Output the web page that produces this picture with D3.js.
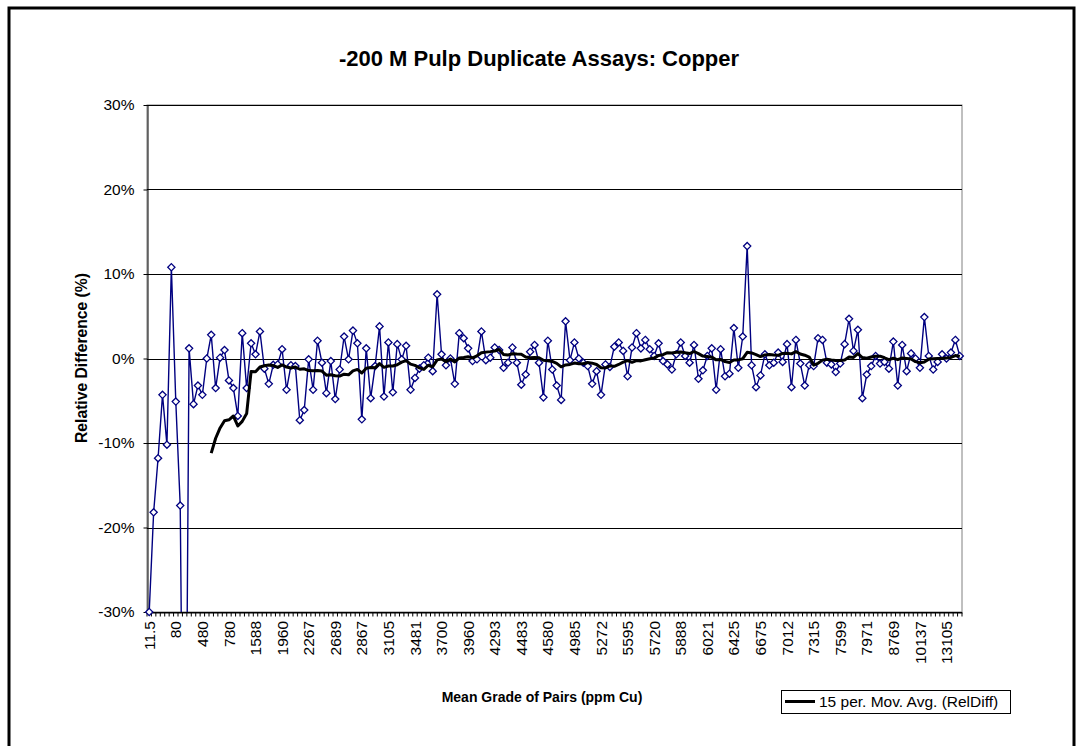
<!DOCTYPE html>
<html>
<head>
<meta charset="utf-8">
<script src="https://cdn.jsdelivr.net/npm/d3@7"></script>
<style>
  body { margin: 0; background: #fff; }
  svg { display: block; font-family: "Liberation Sans", Arial, sans-serif; }
</style>
</head>
<body>
<svg id="chart" width="1083" height="746"></svg>
<script>
// relative difference of duplicate pairs (%), one per pair, sorted by mean grade
const relDiff = [
  -30.0, -18.2, -11.8, -4.3, -10.2, 10.8, -5.1, -17.4, -73.0, 1.2,
  -5.4, -3.2, -4.3, 0.0, 2.8, -3.5, 0.1, 1.0, -2.6, -3.5,
  -6.8, 3.0, -3.5, 1.8, 0.5, 3.2, -1.2, -3.0, -0.75, -0.7,
  1.1, -3.7, -0.8, -0.9, -7.3, -6.1, -0.1, -3.7, 2.1, -0.5,
  -4.1, -0.3, -4.8, -1.3, 2.6, -0.1, 3.3, 1.8, -7.2, 1.2,
  -4.7, -0.9, 3.8, -4.5, 1.9, -4.0, 1.7, -0.1, 1.5, -3.7,
  -2.3, -1.2, -0.8, 0.1, -1.5, 7.6, 0.5, -0.8, 0.0, -3.0,
  3.0, 2.4, 1.2, -0.3, -0.1, 3.2, -0.2, 0.1, 1.3, 1.0,
  -1.1, -0.5, 1.3, -0.5, -3.1, -1.9, 0.8, 1.6, -0.5, -4.6,
  2.1, -1.3, -3.2, -4.9, 4.4, -0.2, 1.9, 0.0, -0.5, -0.9,
  -3.0, -1.5, -4.3, -0.7, -1.0, 1.4, 1.9, 0.9, -2.1, 1.3,
  3.0, 1.2, 2.2, 1.1, 0.3, 1.8, -0.3, -0.7, -1.3, 0.5,
  1.9, 0.3, -0.5, 1.6, -2.4, -1.4, 0.3, 1.2, -3.7, 1.1,
  -2.1, -1.8, 3.6, -1.1, 2.6, 13.3, -0.8, -3.4, -2.0, 0.5,
  -0.8, -0.5, 0.7, -0.4, 1.7, -3.4, 2.2, -0.6, -3.2, -0.8,
  -0.9, 2.4, 2.2, -0.5, -0.7, -1.6, -0.6, 1.7, 4.7, 0.9,
  3.4, -4.7, -1.9, -0.9, 0.3, -0.6, -0.4, -1.2, 2.0, -3.2,
  1.6, -1.5, 0.6, 0.0, -1.1, 4.9, 0.3, -1.3, -0.4, 0.5,
  0.0, 0.7, 2.2, 0.3
];

// mean grade labels shown on the category axis (every 6th pair)
const gradeLabels = [
  '11.5', '80', '480', '780', '1588', '1960', '2267', '2689', '2867', '3105',
  '3481', '3700', '3960', '4293', '4483', '4580', '4985', '5272', '5595', '5720',
  '5888', '6021', '6425', '6675', '7012', '7315', '7599', '7971', '8769', '10137',
  '13105'
];
const labelEvery = 6;

const yTicks = [-30, -20, -10, 0, 10, 20, 30];
const maPeriod = 15;

// 15 period trailing moving average, as the Excel trendline
const movAvg = relDiff.map((v, i) => {
  if (i < maPeriod - 1) return null;
  return d3.mean(relDiff.slice(i - maPeriod + 1, i + 1));
});

const svg = d3.select('#chart');
const plot = { left: 147, top: 105, right: 962, bottom: 612 };

// outer chart border
svg.append('rect')
  .attr('x', 9)
  .attr('y', 8)
  .attr('width', 1065)
  .attr('height', 770)
  .style('fill', '#fff')
  .style('stroke', '#000')
  .style('stroke-width', 3);

const x = d3.scaleBand()
  .domain(d3.range(relDiff.length))
  .range([plot.left, plot.right])
  .padding(0);
const bw = x.bandwidth();
const cx = i => x(i) + bw / 2;

const y = d3.scaleLinear()
  .domain([-30, 30])
  .range([plot.bottom, plot.top]);

svg.append('defs').append('clipPath')
  .attr('id', 'plot-clip')
  .append('rect')
  .attr('x', plot.left)
  .attr('y', plot.top - 2)
  .attr('width', plot.right - plot.left)
  .attr('height', plot.bottom - plot.top + 2);

// plot area frame
svg.append('rect')
  .attr('x', plot.left)
  .attr('y', plot.top)
  .attr('width', plot.right - plot.left)
  .attr('height', plot.bottom - plot.top)
  .style('fill', '#fff')
  .style('stroke', '#808080')
  .style('stroke-width', 1);

// gridlines
svg.append('g')
  .selectAll('line')
  .data(yTicks)
  .join('line')
  .attr('x1', plot.left)
  .attr('x2', plot.right)
  .attr('y1', d => Math.round(y(d)) + 0.5)
  .attr('y2', d => Math.round(y(d)) + 0.5)
  .style('stroke', '#000')
  .style('stroke-width', 1);

// y axis
const yAxis = svg.append('g')
  .attr('transform', `translate(${plot.left + 0.5},0)`)
  .call(d3.axisLeft(y)
    .tickValues(yTicks)
    .tickSize(4)
    .tickSizeOuter(0)
    .tickPadding(9)
    .tickFormat(d => d + '%'));
yAxis.selectAll('text')
  .style('font-size', '15.5px')
  .style('fill', '#000')
  .style('font-family', '"Liberation Sans", Arial, sans-serif');
yAxis.selectAll('line, path').style('stroke', '#000');

// x axis, tick mark between every category
const xAxis = svg.append('g')
  .attr('transform', `translate(0,${Math.round(plot.bottom) + 0.5})`)
  .call(d3.axisBottom(x)
    .tickValues(d3.range(relDiff.length))
    .tickSize(4)
    .tickSizeOuter(0)
    .tickFormat(i => i % labelEvery === 0 ? gradeLabels[i / labelEvery] : ''));
xAxis.selectAll('.tick line')
  .attr('x1', -bw / 2)
  .attr('x2', -bw / 2);
xAxis.append('line')
  .attr('x1', plot.right)
  .attr('x2', plot.right)
  .attr('y1', 0)
  .attr('y2', 4);
xAxis.selectAll('line, path').style('stroke', '#000');
xAxis.selectAll('.tick text')
  .attr('transform', 'rotate(-90)')
  .attr('text-anchor', 'end')
  .attr('x', -8.5)
  .attr('y', 0)
  .attr('dy', '0.36em')
  .style('font-size', '15.5px')
  .style('fill', '#000')
  .style('font-family', '"Liberation Sans", Arial, sans-serif');

// data series
const line = d3.line()
  .x((d, i) => cx(i))
  .y(d => y(d));

svg.append('path')
  .datum(relDiff)
  .attr('clip-path', 'url(#plot-clip)')
  .attr('d', line)
  .style('fill', 'none')
  .style('stroke', '#000080')
  .style('stroke-width', 1.4);

const r = 3.6;
svg.append('g')
  .selectAll('path')
  .data(relDiff.map((v, i) => ({ v, i })).filter(d => d.v >= -30 && d.v <= 30))
  .join('path')
  .attr('transform', d => `translate(${cx(d.i)},${y(d.v)})`)
  .attr('d', `M0,${-r}L${r},0L0,${r}L${-r},0Z`)
  .style('fill', '#fff')
  .style('stroke', '#000080')
  .style('stroke-width', 1.3);

// moving average trendline
const maLine = d3.line()
  .defined(d => d !== null)
  .x((d, i) => cx(i))
  .y(d => y(d));

svg.append('path')
  .datum(movAvg)
  .attr('d', maLine)
  .style('fill', 'none')
  .style('stroke', '#000')
  .style('stroke-width', 3)
  .style('stroke-linejoin', 'round');

// titles
svg.append('text')
  .attr('x', 539)
  .attr('y', 66)
  .attr('text-anchor', 'middle')
  .style('font-size', '22px')
  .style('font-weight', 'bold')
  .text('-200 M Pulp Duplicate Assays: Copper');

svg.append('text')
  .attr('transform', 'translate(87,358) rotate(-90)')
  .attr('text-anchor', 'middle')
  .style('font-size', '15.7px')
  .style('font-weight', 'bold')
  .text('Relative Difference (%)');

svg.append('text')
  .attr('x', 542)
  .attr('y', 702)
  .attr('text-anchor', 'middle')
  .style('font-size', '14px')
  .style('font-weight', 'bold')
  .text('Mean Grade of Pairs (ppm Cu)');

// legend
const legend = svg.append('g').attr('transform', 'translate(781,690)');
legend.append('rect')
  .attr('x', 0.5)
  .attr('y', 0.5)
  .attr('width', 229)
  .attr('height', 23)
  .style('fill', '#fff')
  .style('stroke', '#000')
  .style('stroke-width', 1);
legend.append('line')
  .attr('x1', 4)
  .attr('x2', 34)
  .attr('y1', 11.5)
  .attr('y2', 11.5)
  .style('stroke', '#000')
  .style('stroke-width', 3);
legend.append('text')
  .attr('x', 38)
  .attr('y', 17)
  .style('font-size', '15.5px')
  .text('15 per. Mov. Avg. (RelDiff)');
</script>
</body>
</html>
